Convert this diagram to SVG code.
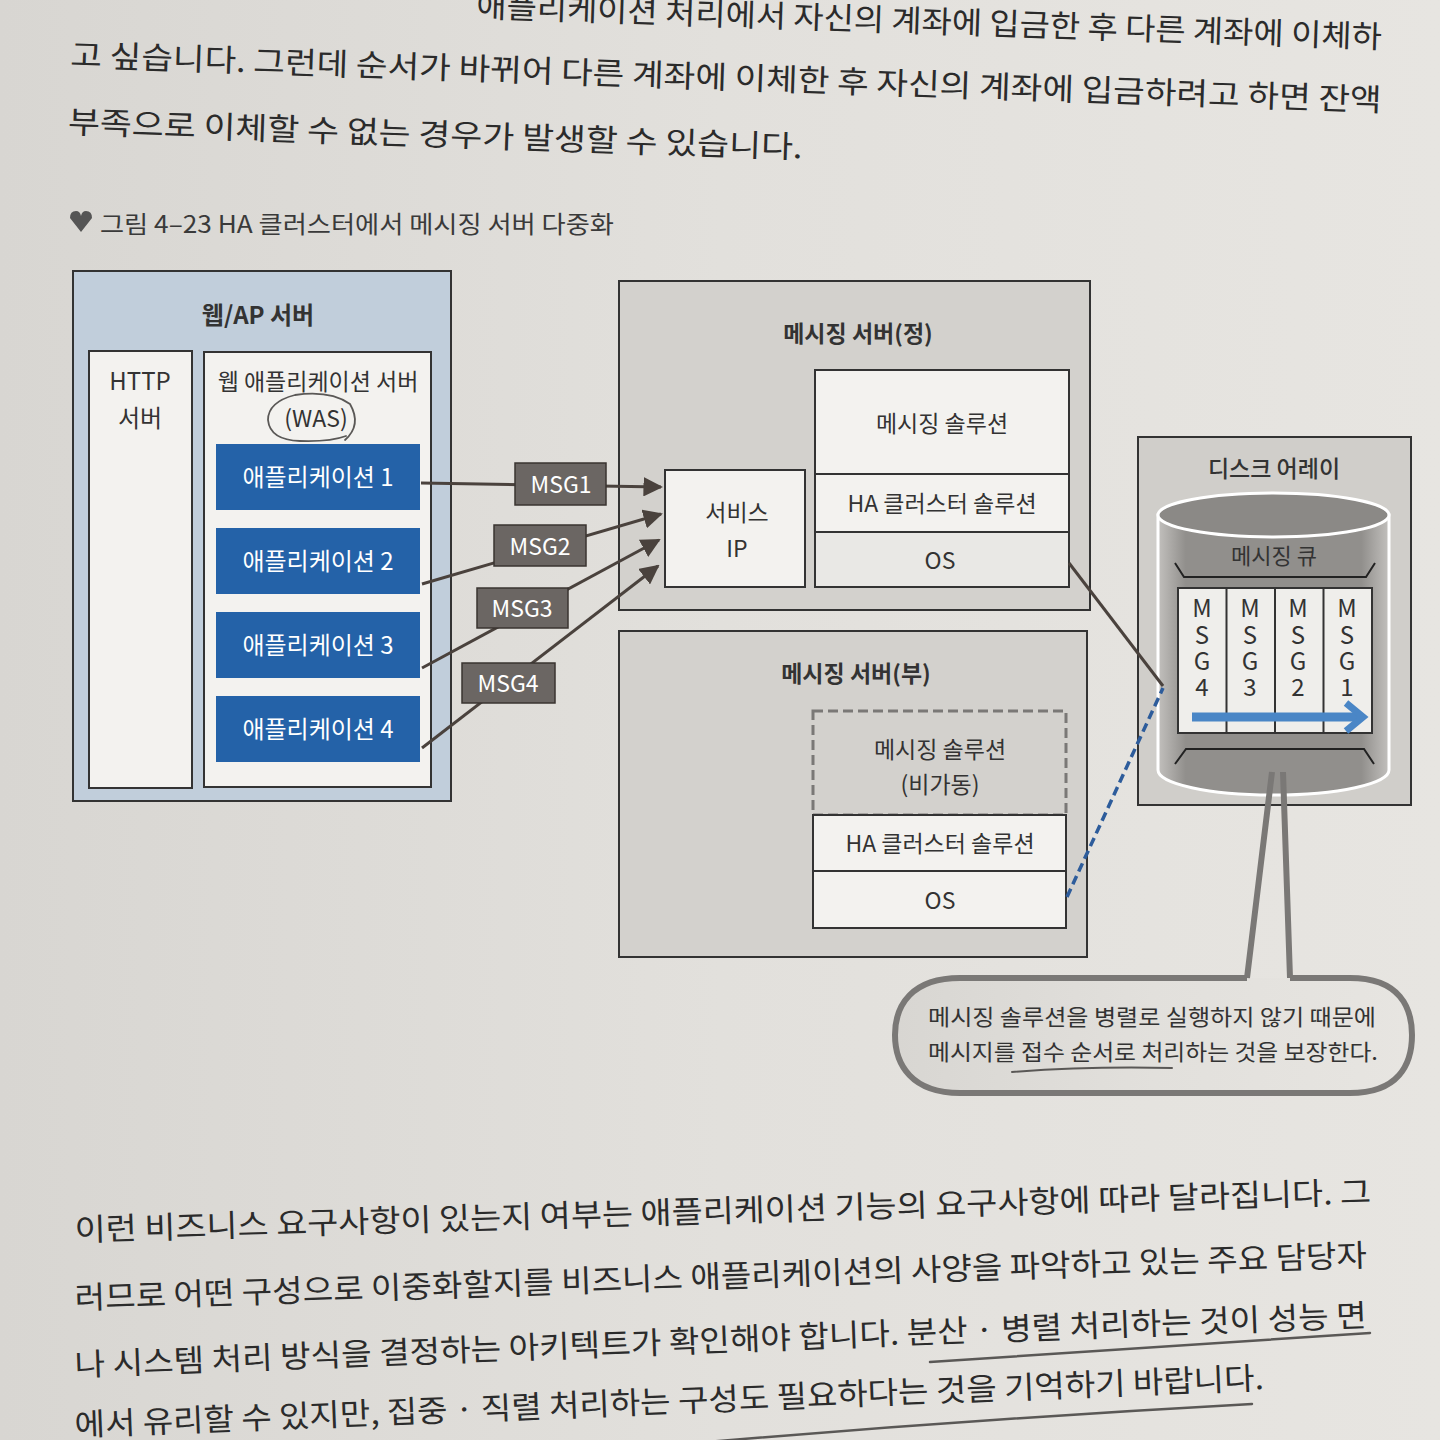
<svg xmlns="http://www.w3.org/2000/svg" width="1440" height="1440" viewBox="0 0 1440 1440">
<defs>
<linearGradient id="page" x1="0" y1="0" x2="1" y2="0">
<stop offset="0" stop-color="#d8d6d2"/><stop offset="0.5" stop-color="#e2e0dc"/><stop offset="1" stop-color="#e7e5e1"/>
</linearGradient>
<linearGradient id="cyl" x1="0" y1="0" x2="1" y2="0">
<stop offset="0" stop-color="#c2c0bd"/><stop offset="0.12" stop-color="#918f8c"/><stop offset="0.88" stop-color="#918f8c"/><stop offset="1" stop-color="#c2c0bd"/>
</linearGradient>
<marker id="ah" viewBox="0 0 10 10" refX="9" refY="5" markerWidth="6.5" markerHeight="6.5" orient="auto" markerUnits="strokeWidth">
<path d="M0,0 L10,5 L0,10 Z" fill="#4a423d"/>
</marker>
<style>
text{font-family:"Noto Sans CJK KR","Noto Sans",sans-serif;fill:#333}
.body{font-size:31px;fill:#2b2b2b}
.cap{font-size:24px;fill:#3a3a3a}
.lbl{font-size:23px;text-anchor:middle}
.ttl{font-size:24px;font-weight:600;text-anchor:middle}
.box{stroke:#333;stroke-width:2}
.wh{fill:#f3f2ef}
.srv{fill:#d3d1cd}
.app{fill:#2462a8}
.appt{fill:#fff;font-size:24px;text-anchor:middle}
.msg{fill:#6b6663;stroke:#3a3431;stroke-width:1.5}
.msgt{fill:#fff;font-size:23px;text-anchor:middle}
.conn{stroke:#4a423d;stroke-width:3;fill:none}
.q{font-size:24px;text-anchor:middle}
.pencil{stroke:#5a5856;stroke-width:2.5;fill:none;stroke-linecap:round}
</style>
</defs>
<rect width="1440" height="1440" fill="url(#page)"/>

<g id="page-text-top" transform="rotate(1.97 70 66)">
<text class="body" x="474" y="3" textLength="906" lengthAdjust="spacingAndGlyphs">애플리케이션 처리에서 자신의 계좌에 입금한 후 다른 계좌에 이체하</text>
<text class="body" x="70" y="66" textLength="1312" lengthAdjust="spacingAndGlyphs">고 싶습니다. 그런데 순서가 바뀌어 다른 계좌에 이체한 후 자신의 계좌에 입금하려고 하면 잔액</text>
<text class="body" x="70" y="133" textLength="735" lengthAdjust="spacingAndGlyphs">부족으로 이체할 수 없는 경우가 발생할 수 있습니다.</text>
</g>

<g id="caption">
<path d="M70,218 Q70,211 76,211 Q80,211 81,216 Q82,211 86,211 Q92,211 92,218 L81,232 Z" fill="#555"/>
<text class="cap" x="100" y="233" textLength="514" lengthAdjust="spacingAndGlyphs">그림 4–23 HA 클러스터에서 메시징 서버 다중화</text>
</g>

<g id="web-ap-server">
<rect x="73" y="271" width="378" height="530" fill="#c1cedb" class="box"/>
<text class="ttl" x="258" y="324">웹/AP 서버</text>
</g>
<g id="http-server">
<rect x="89" y="351" width="103" height="437" class="wh box"/>
<text class="lbl" x="140" y="390" style="font-size:24px">HTTP</text>
<text class="lbl" x="140" y="427" style="font-size:24px">서버</text>
</g>
<g id="was">
<rect x="204" y="352" width="227" height="435" class="wh box"/>
<text class="lbl" x="318" y="390">웹 애플리케이션 서버</text>
<text class="lbl" x="316" y="427">(WAS)</text>
<path class="pencil" style="stroke-width:1.8" d="M345,440 Q362,425 350,404 Q330,390 295,395 Q268,402 268,420 Q270,440 300,441 Q330,442 346,436"/>
</g>
<g id="app1"><rect x="216" y="444" width="204" height="66" class="app"/><text class="appt" x="318" y="486">애플리케이션 1</text></g>
<g id="app2"><rect x="216" y="528" width="204" height="66" class="app"/><text class="appt" x="318" y="570">애플리케이션 2</text></g>
<g id="app3"><rect x="216" y="612" width="204" height="66" class="app"/><text class="appt" x="318" y="654">애플리케이션 3</text></g>
<g id="app4"><rect x="216" y="696" width="204" height="66" class="app"/><text class="appt" x="318" y="738">애플리케이션 4</text></g>

<g id="msg-server-primary">
<rect x="619" y="281" width="471" height="329" class="srv box"/>
<text class="ttl" x="858" y="342" style="font-size:23px">메시징 서버(정)</text>
</g>
<g id="service-ip">
<rect x="665" y="470" width="140" height="117" class="wh box"/>
<text class="lbl" x="737" y="521">서비스</text>
<text class="lbl" x="737" y="557">IP</text>
</g>
<g id="primary-stack">
<rect x="815" y="370" width="254" height="104" class="wh box"/>
<text class="lbl" x="942" y="432">메시징 솔루션</text>
<rect x="815" y="474" width="254" height="58" class="wh box"/>
<text class="lbl" x="942" y="512">HA 클러스터 솔루션</text>
<rect x="815" y="532" width="254" height="55" fill="#e9e8e5" class="box"/>
<text class="lbl" x="940" y="569">OS</text>
</g>

<g id="msg-server-secondary">
<rect x="619" y="631" width="468" height="326" class="srv box"/>
<text class="ttl" x="856" y="682" style="font-size:23px">메시징 서버(부)</text>
</g>
<g id="secondary-stack">
<rect x="813" y="711" width="253" height="104" fill="none" stroke="#7a7876" stroke-width="3" stroke-dasharray="10 5"/>
<text class="lbl" x="940" y="758">메시징 솔루션</text>
<text class="lbl" x="940" y="793">(비가동)</text>
<rect x="813" y="815" width="253" height="56" class="wh box"/>
<text class="lbl" x="940" y="852">HA 클러스터 솔루션</text>
<rect x="813" y="871" width="253" height="57" class="wh box"/>
<text class="lbl" x="940" y="909">OS</text>
</g>

<g id="disk-array">
<rect x="1138" y="437" width="273" height="368" fill="#d0ceca" class="box"/>
<text class="ttl" x="1274" y="477" style="font-size:23px;font-weight:500">디스크 어레이</text>
<path d="M1158,515 L1158,770 A115.5,25 0 0 0 1389,770 L1389,515 Z" fill="url(#cyl)" stroke="#fff" stroke-width="3"/>
<ellipse cx="1273.5" cy="515" rx="115.5" ry="22" fill="#8b8986" stroke="#fff" stroke-width="3"/>
</g>
<g id="message-queue">
<text class="lbl" x="1274" y="564" style="font-size:22px">메시징 큐</text>
<polyline points="1175,563 1184,577 1366,577 1375,563" fill="none" stroke="#222" stroke-width="2"/>
<polyline points="1175,764 1186,749 1364,749 1374,764" fill="none" stroke="#222" stroke-width="2"/>
<rect x="1178" y="588" width="194" height="145" fill="#efeeeb" class="box"/>
<line x1="1226.5" y1="588" x2="1226.5" y2="733" class="box"/>
<line x1="1275" y1="588" x2="1275" y2="733" class="box"/>
<line x1="1323.5" y1="588" x2="1323.5" y2="733" class="box"/>
<text class="q" x="1202" y="617">M</text><text class="q" x="1202" y="644">S</text><text class="q" x="1202" y="670">G</text><text class="q" x="1202" y="696">4</text>
<text class="q" x="1250" y="617">M</text><text class="q" x="1250" y="644">S</text><text class="q" x="1250" y="670">G</text><text class="q" x="1250" y="696">3</text>
<text class="q" x="1298" y="617">M</text><text class="q" x="1298" y="644">S</text><text class="q" x="1298" y="670">G</text><text class="q" x="1298" y="696">2</text>
<text class="q" x="1347" y="617">M</text><text class="q" x="1347" y="644">S</text><text class="q" x="1347" y="670">G</text><text class="q" x="1347" y="696">1</text>
<line x1="1192" y1="717" x2="1358" y2="717" stroke="#4a86c6" stroke-width="9"/>
<path d="M1346,703 L1363,717 L1346,731" fill="none" stroke="#4a86c6" stroke-width="7"/>
</g>

<g id="connectors">
<path class="conn" d="M421,483 L661,487" marker-end="url(#ah)"/>
<path class="conn" d="M422,584 L661,514" marker-end="url(#ah)"/>
<path class="conn" d="M422,668 L659,540" marker-end="url(#ah)"/>
<path class="conn" d="M422,748 L658,566" marker-end="url(#ah)"/>
<path class="conn" d="M1069,563 L1163,686"/>
<path d="M1067,897 L1163,688" fill="none" stroke="#2d5c9b" stroke-width="3.5" stroke-dasharray="9 5"/>
<g id="msg1-label"><rect x="515" y="463" width="91" height="42" class="msg"/><text class="msgt" x="561" y="493">MSG1</text></g>
<g id="msg2-label"><rect x="494" y="525" width="92" height="41" class="msg"/><text class="msgt" x="540" y="555">MSG2</text></g>
<g id="msg3-label"><rect x="477" y="588" width="91" height="40" class="msg"/><text class="msgt" x="522" y="617">MSG3</text></g>
<g id="msg4-label"><rect x="462" y="663" width="93" height="40" class="msg"/><text class="msgt" x="508" y="692">MSG4</text></g>
</g>

<g id="callout">
<path d="M1290,978 L1350,978 C1400,978 1412,1008 1412,1035 C1412,1065 1398,1093 1350,1093 L960,1093 C912,1093 895,1065 895,1035 C895,1005 912,978 960,978 L1247,978" fill="url(#page)" stroke="#7a7876" stroke-width="6"/>
<path d="M1247,978 L1272,772 M1283,772 L1290,978" fill="none" stroke="#7a7876" stroke-width="6"/>
<text class="lbl" x="928" y="1025" style="text-anchor:start;font-size:22px" textLength="448" lengthAdjust="spacingAndGlyphs">메시징 솔루션을 병렬로 실행하지 않기 때문에</text>
<text class="lbl" x="928" y="1060" style="text-anchor:start;font-size:22px" textLength="450" lengthAdjust="spacingAndGlyphs">메시지를 접수 순서로 처리하는 것을 보장한다.</text>
<path class="pencil" style="stroke-width:2" d="M1012,1072 Q1090,1066 1172,1068"/>
</g>

<g id="page-text-bottom">
<text class="body" x="75" y="1241" transform="rotate(-1.68 75 1241)" textLength="1297" lengthAdjust="spacingAndGlyphs">이런 비즈니스 요구사항이 있는지 여부는 애플리케이션 기능의 요구사항에 따라 달라집니다. 그</text>
<text class="body" x="75" y="1309" transform="rotate(-1.9 75 1309)" textLength="1293" lengthAdjust="spacingAndGlyphs">러므로 어떤 구성으로 이중화할지를 비즈니스 애플리케이션의 사양을 파악하고 있는 주요 담당자</text>
<text class="body" x="75" y="1376" transform="rotate(-2.2 75 1376)" textLength="1293" lengthAdjust="spacingAndGlyphs">나 시스템 처리 방식을 결정하는 아키텍트가 확인해야 합니다. 분산 · 병렬 처리하는 것이 성능 면</text>
<text class="body" x="75" y="1436" transform="rotate(-2.27 75 1436)" textLength="1190" lengthAdjust="spacingAndGlyphs">에서 유리할 수 있지만, 집중 · 직렬 처리하는 구성도 필요하다는 것을 기억하기 바랍니다.</text>
<path class="pencil" d="M930,1362 Q1150,1347 1370,1333"/>
<path class="pencil" d="M660,1446 Q960,1420 1252,1404"/>
</g>
</svg>
